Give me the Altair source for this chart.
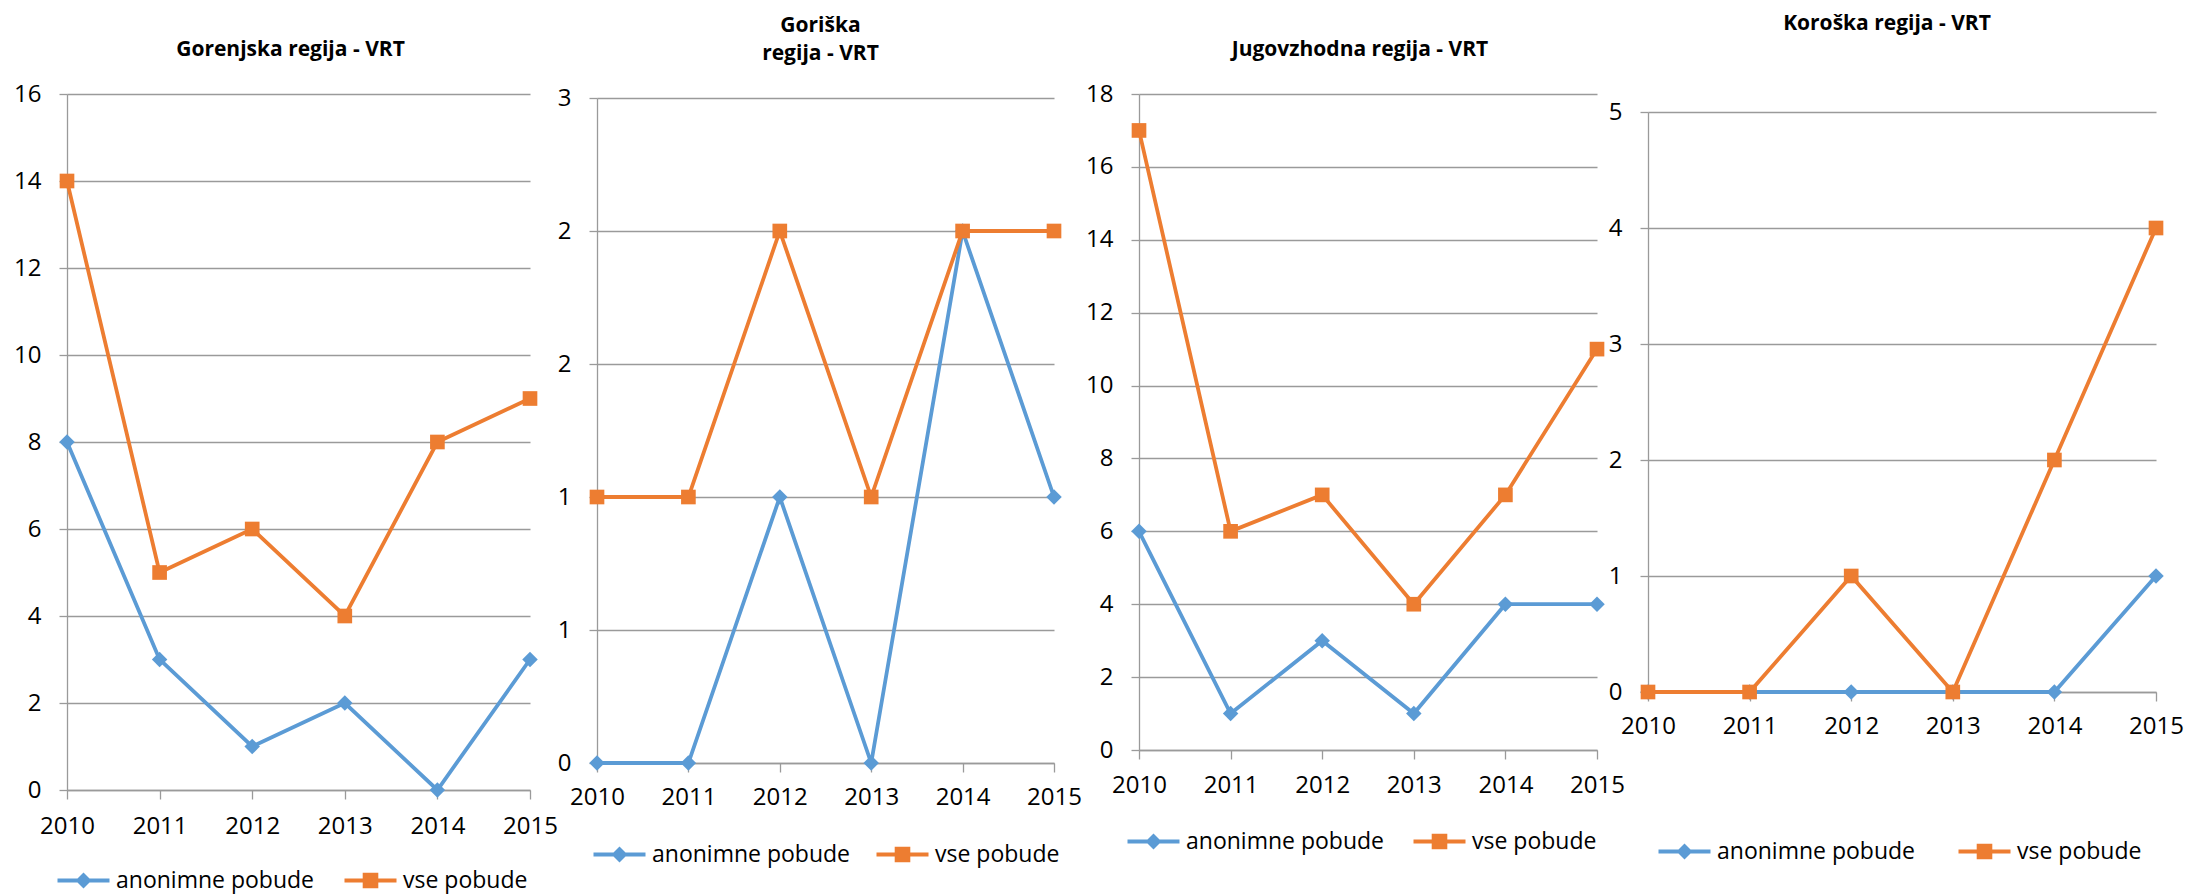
import altair as alt
import pandas as pd

# ---- data -------------------------------------------------------------
YEARS = [2010, 2011, 2012, 2013, 2014, 2015]
SERIES = ["anonimne pobude", "vse pobude"]
TITLES = [
    ["Gorenjska regija - VRT"],
    ["Goriška", "regija - VRT"],
    ["Jugovzhodna regija - VRT"],
    ["Koroška regija - VRT"],
]
ANON = [
    [8, 3, 1, 2, 0, 3],
    [0, 0, 1, 0, 2, 1],
    [6, 1, 3, 1, 4, 4],
    [0, 0, 0, 0, 0, 1],
]
VSE = [
    [14, 5, 6, 4, 8, 9],
    [1, 1, 2, 1, 2, 2],
    [17, 6, 7, 4, 7, 11],
    [0, 0, 1, 0, 2, 4],
]
Y_TICKS = [
    [0, 2, 4, 6, 8, 10, 12, 14, 16],
    [0, 0.5, 1, 1.5, 2, 2.5],
    [0, 2, 4, 6, 8, 10, 12, 14, 16, 18],
    [0, 1, 2, 3, 4, 5],
]

# ---- styling / layout --------------------------------------------------
BLUE = "#5B9BD5"
ORANGE = "#ED7D31"
GRAY = "#9A9A9A"
FONT = "Open Sans"

PANEL_W = [463, 457, 458, 508]
PANEL_H = [696, 669, 656, 598]
RANGE_TOP = [0, 4, 0, 18]
GAPS = [67, 85, 51]
TITLE_OFFSET = [11, 11, 11, 49]
TITLE_DX = [-8, -5, -8, -15]
XLABEL_PAD = [27, 25, 26, 25]
LEG_BLUE_X = [5, 11, 3, 25]
LEG_ORANGE_X = [292, 294, 289, 325]
LEG_Y = [775, 749, 736, 746]

# legend glyphs: line segment with the series marker (units of 10 px)
SYM_DIAMOND = "M-2.6,-0.19H2.6V0.19H-2.6Z M-0.8,0L0,-0.8L0.8,0L0,0.8Z"
SYM_SQUARE = "M-2.6,-0.19H2.6V0.19H-2.6Z M-0.78,-0.78H0.78V0.78H-0.78Z"


def make_panel(i):
    ymax = Y_TICKS[i][-1]
    yscale = alt.Scale(domain=[0, ymax], nice=False, zero=True,
                       range=[PANEL_H[i], RANGE_TOP[i]])
    xscale = alt.Scale(domain=[YEARS[0], YEARS[-1]], nice=False, zero=False)
    yaxis_kw = dict(
        values=Y_TICKS[i], title=None, grid=True, gridColor=GRAY, gridWidth=1.3,
        domainColor=GRAY, domainWidth=1.3, tickColor=GRAY, tickWidth=1.3,
        tickSize=8, labelFont=FONT, labelFontSize=24, labelColor="black",
        labelPadding=18, labelBound=False, labelOverlap=False, labelFlush=False,
    )
    if i == 1:
        yaxis_kw["labelExpr"] = "format(round(datum.value), 'd')"
    yaxis = alt.Axis(**yaxis_kw)
    xaxis = alt.Axis(
        values=YEARS, format="d", title=None, grid=False,
        domainColor=GRAY, domainWidth=1.3, tickColor=GRAY, tickWidth=1.3,
        tickSize=9, labelFont=FONT, labelFontSize=24, labelColor="black",
        labelBaseline="middle", labelPadding=XLABEL_PAD[i], labelFlush=False,
        labelOverlap=False, labelBound=False,
    )

    layers = []
    specs = [
        (SERIES[0], ANON[i], BLUE, "diamond", 240, SYM_DIAMOND, LEG_BLUE_X[i]),
        (SERIES[1], VSE[i], ORANGE, "square", 215, SYM_SQUARE, LEG_ORANGE_X[i]),
    ]
    for name, vals, color, shape, size, sym, lx in specs:
        df = pd.DataFrame({"year": YEARS, "value": vals, "series": [name] * len(YEARS)})
        base = alt.Chart(df).encode(
            x=alt.X("year:Q", scale=xscale, axis=xaxis),
            y=alt.Y("value:Q", scale=yscale, axis=yaxis),
        )
        line = base.mark_line(strokeWidth=3.8, color=color)
        pts = base.mark_point(shape=shape, filled=True, size=size, opacity=1).encode(
            color=alt.Color(
                "series:N",
                scale=alt.Scale(domain=[name], range=[color]),
                legend=alt.Legend(
                    title=None, orient="none", legendX=lx, legendY=LEG_Y[i],
                    symbolType=sym, symbolSize=400, symbolStrokeWidth=0,
                    symbolOpacity=1, symbolFillColor=color,
                    labelFont=FONT, labelFontSize=23, labelColor="black",
                    labelOffset=21, padding=0, labelLimit=400,
                ),
            )
        )
        layers += [line, pts]

    return (
        alt.layer(*layers)
        .resolve_scale(color="independent")
        .resolve_legend(color="independent")
        .properties(
            width=PANEL_W[i], height=PANEL_H[i],
            title=alt.TitleParams(
                text=TITLES[i], font=FONT, fontSize=21, fontWeight="bold",
                color="black", anchor="middle", frame="group", baseline="middle",
                offset=TITLE_OFFSET[i], dx=TITLE_DX[i], lineHeight=28,
            ),
        )
    )


def spacer(w):
    return (
        alt.Chart(pd.DataFrame({"s": [0]}))
        .mark_point(opacity=0)
        .properties(width=w, height=10)
    )


items = []
for i in range(4):
    items.append(make_panel(i))
    if i < 3:
        items.append(spacer(GAPS[i]))

chart = (
    alt.hconcat(*items, spacing=0, bounds="flush")
    .resolve_scale(color="independent")
    .resolve_legend(color="independent")
    .configure_view(stroke=None)
    .properties(padding={"left": 5, "top": 5, "right": 5, "bottom": 2},
                background="white")
)

chart.save("out.html", embed_options={"renderer": "svg", "actions": False})
